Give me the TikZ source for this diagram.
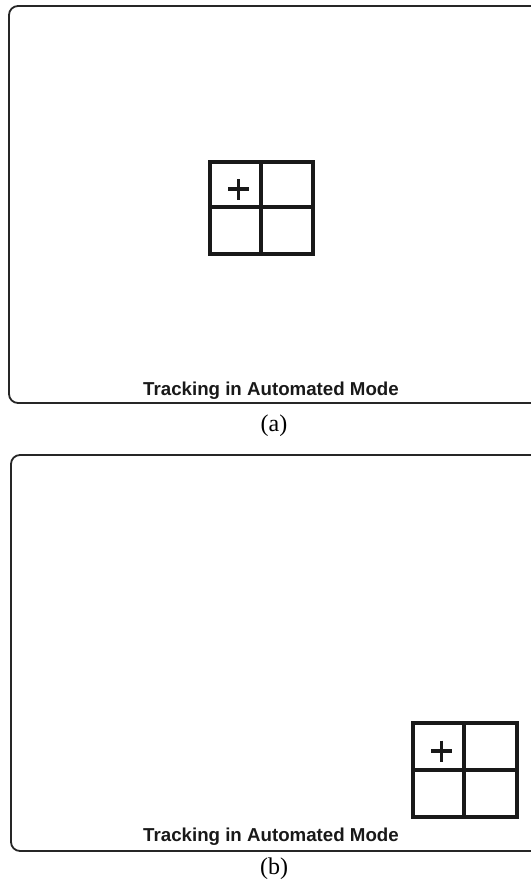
\documentclass[tikz,border=0pt]{standalone}
\usepackage{fontspec}
\setmainfont{Liberation Serif}
\setsansfont{Liberation Sans}
\usetikzlibrary{positioning}

\tikzset{
  screen/.style={draw=black!85, line width=1.8pt, rounded corners=9pt},
  cell/.style={draw=black!90, line width=3.8pt},
  cross/.style={draw=black!90, line width=3.4pt},
  status/.style={font=\sffamily\bfseries\fontsize{18.7}{21}\selectfont, text=black!90, inner sep=0pt, anchor=base},
  tag/.style={font=\fontsize{24}{26}\selectfont, inner sep=0pt, anchor=base}
}

\begin{document}
\begin{tikzpicture}[x=1pt, y=-1pt]
  \useasboundingbox (0,0) rectangle (530,886);

  % (a) target in the middle
  \draw[screen] (9,6) rectangle (540,403);
  \draw[cell] (210,162) rectangle (313,254);
  \draw[cell] (261,162) -- (261,254);
  \draw[cell] (210,207) -- (313,207);
  \draw[cross] (228,189) -- (249,189) (238.5,179) -- (238.5,200);
  \node[status] (statusA) at (271,395) {Tracking in Automated Mode};
  \node[tag] (capA) at (274,431) {(a)};

  % (b) target near the corner
  \draw[screen] (11,455) rectangle (540,851);
  \draw[cell] (413,723) rectangle (517,817);
  \draw[cell] (464,723) -- (464,817);
  \draw[cell] (413,770) -- (517,770);
  \draw[cross] (431,751) -- (452,751) (441.5,740.5) -- (441.5,761.5);
  \node[status] (statusB) at (271,841) {Tracking in Automated Mode};
  \node[tag] (capB) at (274,874) {(b)};
\end{tikzpicture}
\end{document}
